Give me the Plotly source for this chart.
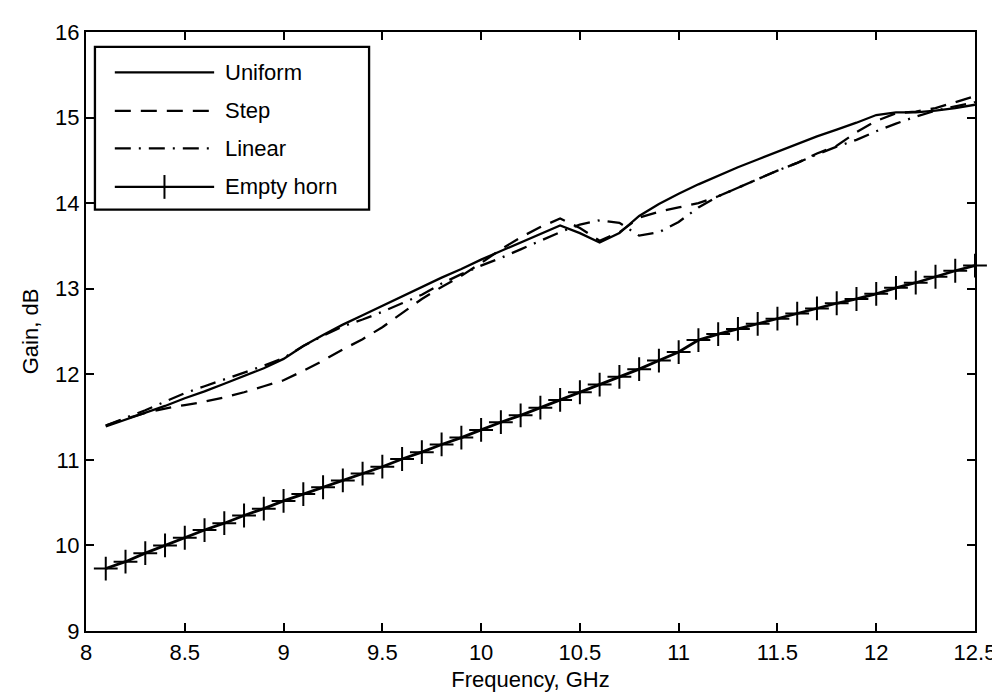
import plotly.graph_objects as go

freq_uniform = [8.1, 8.2, 8.3, 8.4, 8.5, 8.6, 8.7, 8.8, 8.9, 9.0, 9.1, 9.2, 9.3, 9.4, 9.5, 9.6, 9.7, 9.8, 9.9, 10.0,
                10.1, 10.2, 10.3, 10.4, 10.5, 10.6, 10.7, 10.8, 10.9, 11.0, 11.1, 11.2, 11.3, 11.4, 11.5, 11.6, 11.7,
                11.8, 11.9, 12.0, 12.1, 12.2, 12.3, 12.4, 12.5]
gain_uniform = [11.39, 11.47, 11.55, 11.63, 11.72, 11.80, 11.89, 11.98, 12.07, 12.18, 12.33, 12.46, 12.58, 12.69,
                12.80, 12.91, 13.02, 13.13, 13.23, 13.34, 13.44, 13.54, 13.64, 13.74, 13.65, 13.54, 13.65, 13.85,
                13.99, 14.11, 14.22, 14.32, 14.42, 14.51, 14.60, 14.69, 14.78, 14.86, 14.94, 15.03, 15.06, 15.06,
                15.08, 15.11, 15.15]

freq_step = freq_uniform
gain_step = [11.40, 11.48, 11.55, 11.60, 11.64, 11.68, 11.73, 11.79, 11.86, 11.93, 12.04, 12.16, 12.29, 12.41,
             12.55, 12.71, 12.88, 13.02, 13.15, 13.30, 13.46, 13.60, 13.72, 13.82, 13.71, 13.56, 13.66, 13.83,
             13.90, 13.95, 14.00, 14.08, 14.18, 14.28, 14.38, 14.47, 14.58, 14.67, 14.83, 14.96, 15.05, 15.07,
             15.11, 15.18, 15.25]

freq_linear = freq_uniform
gain_linear = [11.40, 11.49, 11.58, 11.68, 11.78, 11.86, 11.94, 12.02, 12.10, 12.19, 12.33, 12.45, 12.56, 12.64,
               12.73, 12.83, 12.93, 13.06, 13.17, 13.27, 13.36, 13.46, 13.56, 13.66, 13.75, 13.80, 13.77, 13.62,
               13.66, 13.78, 13.95, 14.08, 14.18, 14.28, 14.38, 14.47, 14.57, 14.66, 14.74, 14.84, 14.93, 15.01,
               15.08, 15.13, 15.18]

freq_empty = freq_uniform
gain_empty = [9.73, 9.81, 9.91, 10.00, 10.09, 10.18, 10.26, 10.35, 10.43, 10.52, 10.60, 10.68, 10.76, 10.84,
              10.92, 11.01, 11.09, 11.18, 11.26, 11.35, 11.44, 11.52, 11.61, 11.70, 11.79, 11.88, 11.97, 12.06,
              12.16, 12.26, 12.40, 12.47, 12.53, 12.59, 12.65, 12.71, 12.77, 12.83, 12.88, 12.94, 13.01, 13.07,
              13.14, 13.21, 13.27]

x_ticks = [8, 8.5, 9, 9.5, 10, 10.5, 11, 11.5, 12, 12.5]
x_tick_labels = ["8", "8.5", "9", "9.5", "10", "10.5", "11", "11.5", "12", "12.5"]
y_ticks = [9, 10, 11, 12, 13, 14, 15, 16]
y_tick_labels = ["9", "10", "11", "12", "13", "14", "15", "16"]

series_names = ["Uniform", "Step", "Linear", "Empty horn"]

FONT = "Liberation Sans, Arial, sans-serif"
DASH_STEP = "16px,10px"
DASH_LINEAR = "16px,8px,2px,8px"
W, H = 1000, 692
L, R, T, B = 78, 973, 20, 627

fig = go.Figure()

fig.add_trace(go.Scatter(x=freq_uniform, y=gain_uniform, mode="lines", name=series_names[0],
                         line=dict(color="black", width=2.3)))
fig.add_trace(go.Scatter(x=freq_step, y=gain_step, mode="lines", name=series_names[1],
                         line=dict(color="black", width=2.3, dash=DASH_STEP)))
fig.add_trace(go.Scatter(x=freq_linear, y=gain_linear, mode="lines", name=series_names[2],
                         line=dict(color="black", width=2.3, dash=DASH_LINEAR)))
fig.add_trace(go.Scatter(x=freq_empty, y=gain_empty, mode="lines+markers", name=series_names[3],
                         line=dict(color="black", width=2.8), cliponaxis=False,
                         marker=dict(symbol="cross-thin", size=17, color="black",
                                     line=dict(color="black", width=2))))

# custom legend drawn on an overlay axis measured in pixels
row_y = [61, 100, 138, 177]
styles = [dict(color="black", width=2.3), dict(color="black", width=2.3, dash=DASH_STEP),
          dict(color="black", width=2.3, dash=DASH_LINEAR), dict(color="black", width=2.3)]
for i, name in enumerate(series_names):
    fig.add_trace(go.Scatter(x=[107, 207], y=[row_y[i], row_y[i]], mode="lines", line=styles[i],
                             xaxis="x2", yaxis="y2", showlegend=False, hoverinfo="skip"))
    fig.add_annotation(x=216, y=row_y[i], xref="x2", yref="y2", text=name, showarrow=False,
                       xanchor="left", yanchor="middle", font=dict(family=FONT, size=22, color="black"))
fig.add_trace(go.Scatter(x=[157], y=[row_y[3]], mode="markers", xaxis="x2", yaxis="y2",
                         marker=dict(symbol="line-ns", size=17, line=dict(color="black", width=2)),
                         showlegend=False, hoverinfo="skip"))
fig.add_shape(type="rect", xref="x2", yref="y2", x0=87, x1=363, y0=35, y1=200,
              line=dict(color="black", width=2.3), fillcolor="rgba(0,0,0,0)", layer="above")

axis_common = dict(showgrid=False, zeroline=False, showline=True, linecolor="black", linewidth=2.3,
                   mirror="ticks", ticks="inside", ticklen=8, tickwidth=2, tickcolor="black",
                   tickfont=dict(family=FONT, size=22, color="black"))

fig.update_layout(
    width=W, height=H,
    margin=dict(l=L, r=W - R, t=T, b=H - B),
    paper_bgcolor="white", plot_bgcolor="white",
    showlegend=False,
    xaxis=dict(range=[8, 12.5], tickvals=x_ticks, ticktext=x_tick_labels,
               title=dict(text="Frequency, GHz", font=dict(family=FONT, size=22, color="black"), standoff=8),
               **axis_common),
    yaxis=dict(range=[9, 16], tickvals=y_ticks, ticktext=y_tick_labels,
               title=dict(text="Gain, dB", font=dict(family=FONT, size=22, color="black"), standoff=10),
               **axis_common),
    xaxis2=dict(range=[L, R], overlaying="x", visible=False, fixedrange=True),
    yaxis2=dict(range=[B, T], overlaying="y", visible=False, fixedrange=True),
)

fig.write_html("out.html")
